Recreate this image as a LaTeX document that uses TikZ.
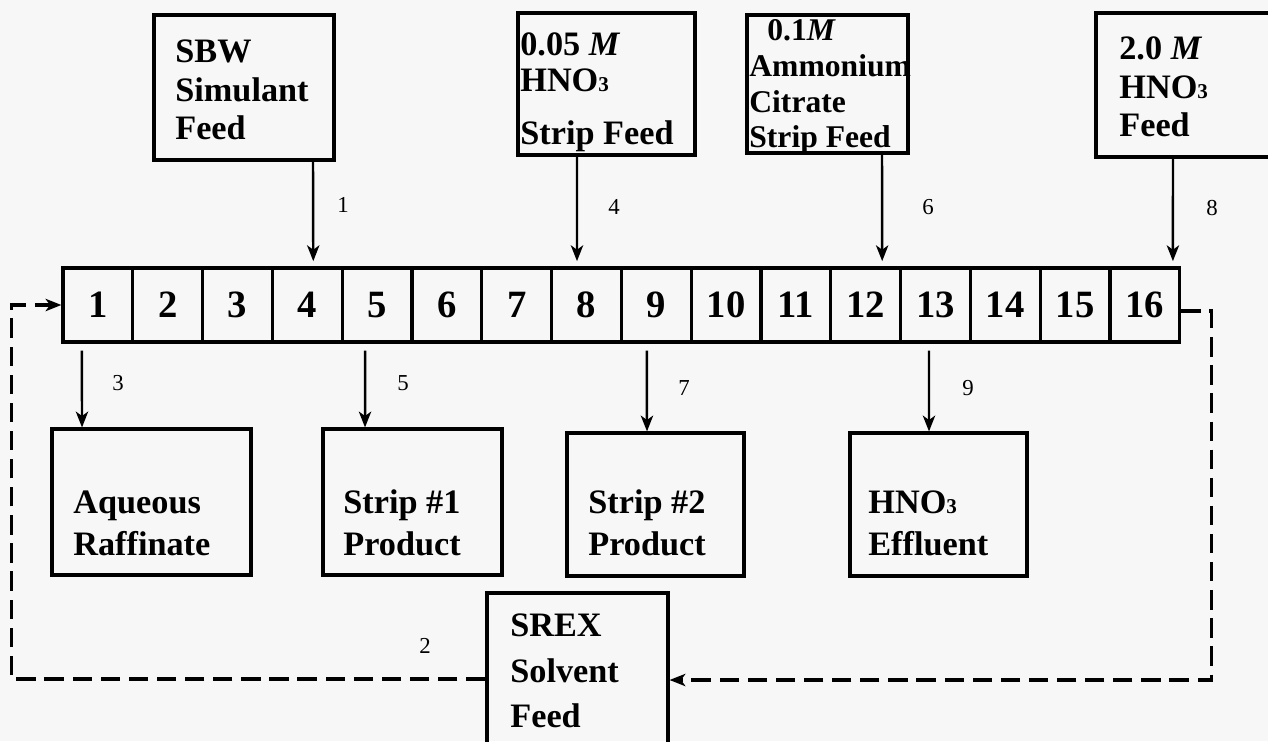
\documentclass[tikz,border=0pt]{standalone}
\usepackage{fontspec}
\setmainfont{Liberation Serif}
\usetikzlibrary{arrows.meta}
\definecolor{paper}{RGB}{247,247,247}
\newcommand{\subthree}{{\fontsize{12}{12}\selectfont 3}}

\begin{document}
\begin{tikzpicture}[x=0.02cm, y=-0.02cm, >={Stealth[length=9pt,width=7pt,inset=2.5pt]},
    cell/.style={rectangle, draw, line width=1.8pt, minimum width=1.396cm,
                 minimum height=1.48cm, inner sep=0pt,
                 font=\fontsize{22}{22}\selectfont\bfseries},
    box/.style={rectangle, draw, line width=1.8pt, inner sep=0pt},
    boxtext/.style={anchor=west, align=left, inner sep=0pt,
                    font=\fontsize{19.5}{22}\selectfont\bfseries},
    lowtext/.style={boxtext, font=\fontsize{19.5}{24}\selectfont\bfseries},
    lbl/.style={font=\fontsize{13}{13}\selectfont, inner sep=0pt},
    arrow/.style={->, line width=1.4pt},
    recycle/.style={->, line width=1.8pt, dash pattern=on 11pt off 5pt}]
    \useasboundingbox (0,0) rectangle (1268,741);
    \clip (0,0) rectangle (1268,741);
    \fill[paper] (0,0) rectangle (1268,741);

    % stages
    \foreach \i in {1,...,16}
        \node[cell] (c\i) at ({63+69.8*(\i-0.5)},305) {\i};

    % feed boxes
    \node[box, minimum width=3.6cm, minimum height=2.9cm] (sbw) at (244,87.5) {};
    \node[boxtext] (sbw-t) at (175,90) {SBW\\Simulant\\Feed};
    \node[box, minimum width=3.54cm, minimum height=2.84cm] (hno3) at (606.5,84) {};
    \node[boxtext, font=\fontsize{19.5}{20.5}\selectfont\bfseries] (hno3-t) at (520,92)
        {0.05 \textit{M}\\HNO\subthree\\[0.34cm]Strip Feed};
    \node[box, minimum width=3.22cm, minimum height=2.76cm] (cit) at (827.5,84) {};
    \node[boxtext, font=\fontsize{18}{20.4}\selectfont\bfseries] (cit-t) at (749,87)
        {\hspace*{0.36cm}0.1\textit{M}\\Ammonium\\Citrate\\Strip Feed};
    \node[box, minimum width=4.08cm, minimum height=2.88cm] (acid) at (1198,85) {};
    \node[boxtext] (acid-t) at (1119,87) {2.0 \textit{M}\\HNO\subthree\\Feed};

    % product boxes
    \node[box, minimum width=3.98cm, minimum height=2.92cm] (aq) at (151.5,502) {};
    \node[lowtext] (aq-t) at (73,523) {Aqueous\\Raffinate};
    \node[box, minimum width=3.58cm, minimum height=2.92cm] (s1) at (412.5,502) {};
    \node[lowtext] (s1-t) at (343,523) {Strip \#1\\Product};
    \node[box, minimum width=3.54cm, minimum height=2.86cm] (s2) at (655.5,504.5) {};
    \node[lowtext] (s2-t) at (588,523) {Strip \#2\\Product};
    \node[box, minimum width=3.54cm, minimum height=2.86cm] (eff) at (938.5,504.5) {};
    \node[lowtext] (eff-t) at (868,523) {HNO\subthree\\Effluent};
    \node[box, minimum width=3.62cm, minimum height=3.74cm] (srex) at (577.5,686.5) {};
    \node[boxtext, font=\fontsize{19.5}{26}\selectfont\bfseries] (srex-t) at (510,671)
        {SREX\\Solvent\\Feed};

    % feeds in
    \draw[arrow, shorten >=3pt] ([xshift=1.38cm]sbw.south) -- ([xshift=0.12cm]c4.north);
    \draw[arrow, shorten >=3pt] ([xshift=-0.59cm]hno3.south) -- ([xshift=-0.19cm]c8.north);
    \draw[arrow, shorten >=3pt] ([xshift=1.09cm]cit.south) -- ([xshift=0.33cm]c12.north);
    \draw[arrow, shorten >=3pt] ([xshift=-0.5cm]acid.south) -- ([xshift=0.56cm]c16.north);

    % products out
    \draw[arrow, shorten <=4pt] ([xshift=-0.32cm]c1.south) -- ([xshift=-1.39cm]aq.north);
    \draw[arrow, shorten <=4pt] ([xshift=-0.24cm]c5.south) -- ([xshift=-0.95cm]s1.north);
    \draw[arrow, shorten <=4pt] ([xshift=-0.19cm]c9.south) -- ([xshift=-0.17cm]s2.north);
    \draw[arrow, shorten <=4pt] ([xshift=-0.13cm]c13.south) -- ([xshift=-0.19cm]eff.north);

    % solvent loop
    \draw[recycle] ([yshift=0.15cm]srex.west) -| ([xshift=-1cm]c1.west) -- (c1.west);
    \draw[recycle] ([yshift=-0.12cm]c16.east) -- ++(30,0) |- ([yshift=0.13cm]srex.east);

    % stream numbers
    \node[lbl] (n1) at (343,205) {1};
    \node[lbl] (n4) at (614,207) {4};
    \node[lbl] (n6) at (928,207) {6};
    \node[lbl] (n8) at (1212,208) {8};
    \node[lbl] (n3) at (118,383) {3};
    \node[lbl] (n5) at (403,383) {5};
    \node[lbl] (n7) at (684,388) {7};
    \node[lbl] (n9) at (968,388) {9};
    \node[lbl] (n2) at (425,646) {2};
\end{tikzpicture}
\end{document}
